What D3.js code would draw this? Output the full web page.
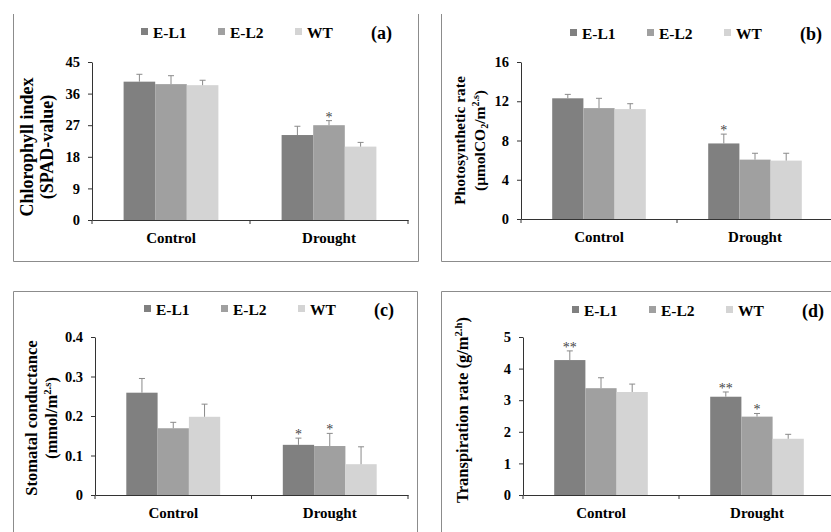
<!DOCTYPE html>
<html>
<head>
<meta charset="utf-8">
<script src="https://cdn.jsdelivr.net/npm/d3@7"></script>
<style>
  body { margin: 0; background: #fff; }
  svg text { font-family: "Liberation Serif", "Times New Roman", serif; }
</style>
</head>
<body>
<div id="chart"></div>
<script>
// groups and series shared by all four panels
let groups = ["Control", "Drought"];
let series = ["E-L1", "E-L2", "WT"];
let colors = ["#808080", "#a0a0a0", "#d4d4d4"];

// (a) chlorophyll index, rows = groups, cols = series
let chloroVals = [[39.4, 38.7, 38.4], [24.2, 27.0, 20.9]];
let chloroErr  = [[2.1, 2.4, 1.4], [2.5, 1.3, 1.2]];
let chloroSig  = [["", "", ""], ["", "*", ""]];
let chloroTicks = [0, 9, 18, 27, 36, 45];

// (b) photosynthetic rate
let photoVals = [[12.3, 11.3, 11.2], [7.7, 6.05, 5.95]];
let photoErr  = [[0.4, 1.0, 0.55], [0.95, 0.65, 0.75]];
let photoSig  = [["", "", ""], ["*", "", ""]];
let photoTicks = [0, 4, 8, 12, 16];

// (c) stomatal conductance
let stomVals = [[0.259, 0.169, 0.198], [0.127, 0.124, 0.078]];
let stomErr  = [[0.036, 0.015, 0.032], [0.017, 0.032, 0.044]];
let stomSig  = [["", "", ""], ["*", "*", ""]];
let stomTicks = [0, 0.1, 0.2, 0.3, 0.4];

// (d) transpiration rate
let transVals = [[4.27, 3.38, 3.26], [3.11, 2.48, 1.78]];
let transErr  = [[0.29, 0.33, 0.25], [0.15, 0.10, 0.14]];
let transSig  = [["**", "", ""], ["**", "*", ""]];
let transTicks = [0, 1, 2, 3, 4, 5];

let W = 831, H = 532;
let FONT = "Liberation Serif, Times New Roman, serif";

let svg = d3.select("#chart").append("svg")
    .attr("width", W)
    .attr("height", H)
    .attr("font-family", FONT);

// frames round each panel (top of upper row is cut off in the original)
let frames = [
    "M13.5,14V261.5H418.5V14",
    "M441.5,14V261.5H840",
    "M13.5,540V291.5H417.5V540",
    "M441.5,540V291.5H840"
];
svg.selectAll("path.frame")
    .data(frames)
    .enter()
    .append("path")
    .attr("class", "frame")
    .attr("d", d => d)
    .attr("fill", "none")
    .attr("stroke", "#8c8c8c")
    .attr("stroke-width", 1);

let panels = [
    {tag: "(a)", vals: chloroVals, err: chloroErr, sig: chloroSig, ticks: chloroTicks,
     x0: 92, x1: 408, yTop: 62, yBot: 220, legendY: 32,
     title: [[{t: "Chlorophyll index"}], [{t: "(SPAD-value)"}]],
     titleSize: 18, titleX: -59, titleDy: 6},
    {tag: "(b)", vals: photoVals, err: photoErr, sig: photoSig, ticks: photoTicks,
     x0: 521, x1: 833, yTop: 62, yBot: 219, legendY: 33,
     title: [[{t: "Photosynthetic rate"}],
             [{t: "(μmolCO"}, {t: "2", sub: true}, {t: "/m"}, {t: "2.s", sup: true}, {t: ")"}]],
     titleSize: 15.5, titleX: -56, titleDy: 0},
    {tag: "(c)", vals: stomVals, err: stomErr, sig: stomSig, ticks: stomTicks,
     x0: 95, x1: 408, yTop: 337, yBot: 495, legendY: 309,
     title: [[{t: "Stomatal conductance"}], [{t: "(mmol/m"}, {t: "2.s", sup: true}, {t: ")"}]],
     titleSize: 16.5, titleX: -58, titleDy: 2},
    {tag: "(d)", vals: transVals, err: transErr, sig: transSig, ticks: transTicks,
     x0: 523, x1: 835, yTop: 337, yBot: 495, legendY: 310,
     title: [[{t: "Transpiration rate (g/m"}, {t: "2.h", sup: true}, {t: ")"}]],
     titleSize: 16.5, titleX: -55, titleDy: -6}
];

panels.forEach(drawPanel);

function drawPanel(p) {
    let g = svg.append("g");

    let x = d3.scaleBand()
        .domain(groups)
        .range([p.x0, p.x1])
        .paddingInner(0.4)
        .paddingOuter(0.2);

    let xs = d3.scaleBand()
        .domain(series)
        .range([0, x.bandwidth()]);

    let y = d3.scaleLinear()
        .domain([0, d3.max(p.ticks)])
        .range([p.yBot, p.yTop]);

    // bars
    let flat = groups.map((grp, gi) => series.map((s, si) => ({
        grp: grp, s: s, si: si,
        v: p.vals[gi][si], e: p.err[gi][si], sig: p.sig[gi][si]
    }))).flat();

    let cx = d => x(d.grp) + xs(d.s) + xs.bandwidth() / 2;

    g.selectAll("rect.bar")
        .data(flat)
        .enter()
        .append("rect")
        .attr("class", "bar")
        .attr("x", d => x(d.grp) + xs(d.s))
        .attr("y", d => y(d.v))
        .attr("width", xs.bandwidth())
        .attr("height", d => y(0) - y(d.v))
        .attr("fill", d => colors[d.si]);

    // error bars (upper only)
    let eb = g.selectAll("g.err")
        .data(flat)
        .enter()
        .append("g")
        .attr("class", "err")
        .attr("stroke", "#8a8a8a")
        .attr("stroke-width", 1);
    eb.append("line")
        .attr("x1", cx).attr("x2", cx)
        .attr("y1", d => y(d.v))
        .attr("y2", d => y(d.v + d.e));
    eb.append("line")
        .attr("x1", d => cx(d) - 3)
        .attr("x2", d => cx(d) + 3)
        .attr("y1", d => y(d.v + d.e))
        .attr("y2", d => y(d.v + d.e));

    // significance marks
    g.selectAll("text.sig")
        .data(flat.filter(d => d.sig))
        .enter()
        .append("text")
        .attr("class", "sig")
        .attr("x", cx)
        .attr("y", d => y(d.v + d.e) + 1)
        .attr("text-anchor", "middle")
        .attr("font-size", 14)
        .attr("fill", "#444")
        .text(d => d.sig);

    // y axis
    let yAxis = g.append("g")
        .attr("transform", `translate(${p.x0},0)`)
        .call(d3.axisLeft(y).tickValues(p.ticks).tickFormat(d3.format("~g"))
            .tickSize(4).tickPadding(8).tickSizeOuter(0));
    yAxis.attr("font-family", FONT);
    yAxis.selectAll("text")
        .attr("font-weight", "bold")
        .attr("font-size", 14.5)
        .attr("fill", "#000");

    // x axis, labels under each group
    let xAxis = g.append("g")
        .attr("transform", `translate(0,${p.yBot})`)
        .call(d3.axisBottom(x).tickSize(0).tickPadding(12));
    xAxis.attr("font-family", FONT);
    xAxis.selectAll("text")
        .attr("font-weight", "bold")
        .attr("font-size", 15)
        .attr("fill", "#000");

    // separator ticks on the x axis
    let seps = [p.x0, p.x0 + x.step(), p.x1];
    g.selectAll("line.sep")
        .data(seps)
        .enter()
        .append("line")
        .attr("class", "sep")
        .attr("x1", d => d).attr("x2", d => d)
        .attr("y1", p.yBot).attr("y2", p.yBot + 4)
        .attr("stroke", "#333");

    g.selectAll(".domain").attr("stroke", "#333");
    g.selectAll(".tick line").attr("stroke", "#333");

    // axis title
    let cy = (p.yTop + p.yBot) / 2 + p.titleDy;
    p.title.forEach((line, li) => {
        let tx = g.append("text")
            .attr("transform", `translate(${p.x0 + p.titleX + li * 20},${cy}) rotate(-90)`)
            .attr("text-anchor", "middle")
            .attr("font-weight", "bold")
            .attr("font-size", p.titleSize);
        let shift = 0;
        line.forEach(part => {
            let ts = tx.append("tspan").text(part.t);
            let target = part.sub ? 3 : part.sup ? -6 : 0;
            if (part.sub || part.sup) ts.attr("font-size", p.titleSize * 0.65);
            if (target !== shift) ts.attr("dy", target - shift);
            shift = target;
        });
    });

    // legend
    let leg = g.selectAll("g.leg")
        .data(series)
        .enter()
        .append("g")
        .attr("class", "leg")
        .attr("transform", (d, i) => `translate(${p.x0 + 49 + i * 77},${p.legendY})`);
    leg.append("rect")
        .attr("x", 0).attr("y", -4)
        .attr("width", 7).attr("height", 7)
        .attr("fill", (d, i) => colors[i]);
    leg.append("text")
        .attr("x", 12).attr("y", 5.5)
        .attr("font-weight", "bold")
        .attr("font-size", 15.5)
        .text(d => d);

    g.append("text")
        .attr("x", p.x0 + 279)
        .attr("y", p.legendY + 6.5)
        .attr("font-weight", "bold")
        .attr("font-size", 18)
        .text(p.tag);
}
</script>
</body>
</html>
